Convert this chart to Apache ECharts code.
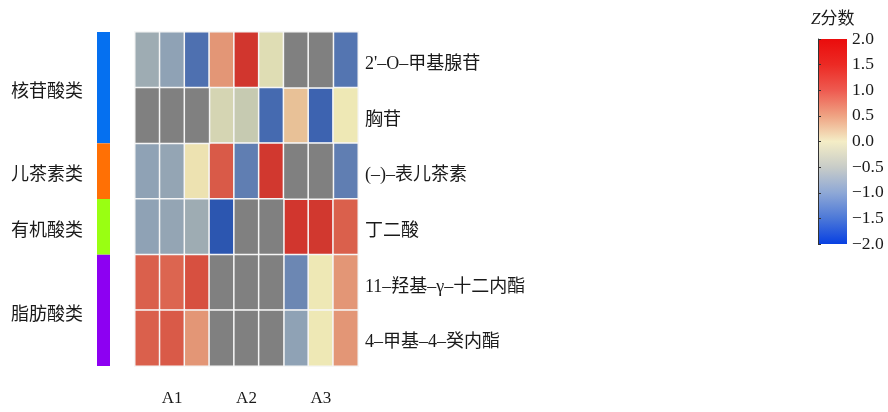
<!DOCTYPE html>
<html>
<head>
<meta charset="utf-8">
<script src="https://cdn.jsdelivr.net/npm/echarts@6/dist/echarts.min.js"></script>
<style>
  html, body { margin: 0; padding: 0; background: #fff; }
  #chart { width: 888px; height: 412px; }
</style>
</head>
<body>
<div id="chart"></div>
<script>
// Sample groups (three replicates each)
const sampleGroups = ['A1', 'A2', 'A3'];
const replicates = 3;

// Compounds, top to bottom
const compounds = ['2\'–O–甲基腺苷', '胸苷', '(–)–表儿茶素', '丁二酸', '11–羟基–γ–十二内酯', '4–甲基–4–癸内酯'];

// Z scores per compound (null = not detected)
const zScores = [
  [-0.8, -0.95, -1.5, 0.7, 1.6, -0.15, null, null, -1.45],
  [null, null, null, -0.25, -0.4, -1.6, 0.35, -1.7, 0.0],
  [-0.95, -0.9, 0.05, 1.2, -1.35, 1.55, null, null, -1.35],
  [-0.95, -0.9, -0.8, -1.9, null, null, 1.6, 1.55, 1.15],
  [1.15, 1.1, 1.3, null, null, null, -1.25, 0.0, 0.7],
  [1.15, 1.2, 0.7, null, null, null, -0.95, 0.0, 0.7]
];

// Compound classes and how many rows each spans
const classNames = ['核苷酸类', '儿茶素类', '有机酸类', '脂肪酸类'];
const classSizes = [2, 1, 1, 2];
const classColors = ['#0570F0', '#FF7005', '#99FF12', '#8D00F2'];

// Colour scale
const zMin = -2, zMax = 2, zStep = 0.5;
const cellPalette = ['#2350B0', '#4E70B0', '#8A9EB5', '#BCC2B0', '#EEE8B5', '#E6B08A', '#DE7058', '#D23A30', '#CC2424'];
const barPalette = ['#0840E2', '#4C78D8', '#8EA8D6', '#C8CCC8', '#F4EDC6', '#EFA383', '#EE5A50', '#EC2A24', '#EA0C0C'];

const naColor = '#808080';
const fontFamily = "'Liberation Serif', 'Noto Sans CJK SC', serif";
const textColor = '#1a1a1a';

const columns = [];
sampleGroups.forEach(g => { for (let r = 0; r < replicates; r++) columns.push(g + '-' + (r + 1)); });

const cellData = [];
const naData = [];
zScores.forEach((row, yi) => {
  row.forEach((v, xi) => {
    if (v === null) naData.push([xi, yi, 0]);
    else cellData.push([xi, yi, v]);
  });
});

// Vertical gradient for the colour bar (top = max)
const barStops = barPalette.map((c, i) => ({ offset: 1 - i / (barPalette.length - 1), color: c }));

// Text style that sits slightly below the row centre
const lowered = { fontSize: 18, color: textColor, fontFamily: fontFamily, padding: [9, 0, 0, 0] };

const classSeries = classNames.map((name, i) => ({
  type: 'bar',
  xAxisIndex: 1,
  yAxisIndex: 1,
  stack: 'class',
  barWidth: 13,
  data: [classSizes[i]],
  itemStyle: { color: classColors[i] },
  label: {
    show: true,
    position: 'left',
    distance: 14,
    formatter: '{t|' + name + '}',
    rich: { t: lowered }
  },
  silent: true
}));

const chart = echarts.init(document.getElementById('chart'));
chart.setOption({
  animation: false,
  backgroundColor: '#fff',
  title: {
    text: '{z|Z}分数',
    left: 806,
    top: 6,
    textStyle: {
      fontSize: 17,
      fontWeight: 'normal',
      color: textColor,
      fontFamily: fontFamily,
      rich: {
        z: { fontStyle: 'italic', fontSize: 17, fontFamily: fontFamily, color: textColor }
      }
    }
  },
  grid: [
    { left: 135, top: 32, width: 223, height: 334 },
    { left: 97, top: 32, width: 13, height: 334 },
    {
      left: 818, top: 39, width: 29, height: 205,
      show: true, borderWidth: 0,
      backgroundColor: new echarts.graphic.LinearGradient(0, 0, 0, 1, barStops)
    }
  ],
  xAxis: [
    {
      type: 'category', gridIndex: 0, data: columns,
      axisLine: { show: false }, axisTick: { show: false }, splitLine: { show: false },
      axisLabel: {
        interval: 0, margin: 24, fontSize: 17, color: textColor, fontFamily: fontFamily,
        formatter: (val, idx) => (idx % replicates === 1 ? sampleGroups[Math.floor(idx / replicates)] : '')
      }
    },
    {
      type: 'category', gridIndex: 1, data: ['class'],
      show: false
    },
    { type: 'value', gridIndex: 2, show: false, min: 0, max: 1 }
  ],
  yAxis: [
    {
      type: 'category', gridIndex: 0, data: compounds, inverse: true, position: 'right',
      axisLine: { show: false }, axisTick: { show: false }, splitLine: { show: false },
      axisLabel: {
        margin: 7,
        formatter: v => '{t|' + v + '}',
        rich: { t: lowered }
      }
    },
    {
      type: 'value', gridIndex: 1, min: 0, max: compounds.length, inverse: true, show: false
    },
    {
      type: 'value', gridIndex: 2, min: zMin, max: zMax, interval: zStep, position: 'right',
      axisLine: { show: true, lineStyle: { color: '#333', width: 1 } },
      axisTick: { show: true, length: 3, lineStyle: { color: '#333' } },
      splitLine: { show: false },
      axisLabel: {
        margin: 5, fontSize: 17.5, color: textColor, fontFamily: fontFamily,
        formatter: v => v.toFixed(1).replace('-', '−')
      }
    }
  ],
  visualMap: {
    show: false,
    seriesIndex: 0,
    dimension: 2,
    min: zMin,
    max: zMax,
    inRange: { color: cellPalette }
  },
  series: [
    {
      type: 'heatmap', xAxisIndex: 0, yAxisIndex: 0, data: cellData,
      itemStyle: { borderColor: '#f6f6f6', borderWidth: 1.5 },
      emphasis: { disabled: true }
    },
    {
      type: 'heatmap', xAxisIndex: 0, yAxisIndex: 0, data: naData,
      itemStyle: { color: naColor, borderColor: '#f6f6f6', borderWidth: 1.5 },
      emphasis: { disabled: true }
    },
    ...classSeries
  ]
});
</script>
</body>
</html>
